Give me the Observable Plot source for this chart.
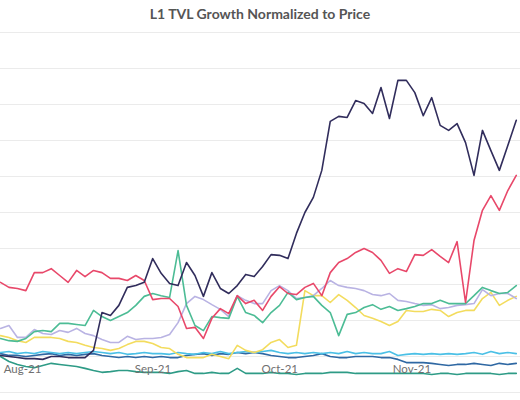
<!DOCTYPE html>
<html>
<head>
<meta charset="utf-8">
<script src="https://cdn.jsdelivr.net/npm/d3@7"></script>
<script src="https://cdn.jsdelivr.net/npm/@observablehq/plot@0.6"></script>
<style>
  html, body { margin: 0; padding: 0; background: #fff; }
  body { width: 520px; height: 400px; overflow: hidden; font-family: Lato, "Open Sans", sans-serif; }
  #title { height: 28px; line-height: 28px; text-align: center; font-weight: 700; font-size: 14px; color: #555; }
</style>
</head>
<body>
<div id="title">L1 TVL Growth Normalized to Price</div>
<div id="chart"></div>
<script>
// Sampling: every 2 days from 2021-07-31
const startDate = "2021-07-31";
const stepDays = 2;
const monthTicks = ["2021-08-01", "2021-09-01", "2021-10-01", "2021-11-01"];
const yTicks = [0, 1, 2, 3, 4, 5, 6, 7, 8, 9, 10];

const seriesNames = ["Chain G", "Chain B", "Chain C", "Chain Y", "Chain L", "Chain T", "Chain R", "Chain N"];
const seriesColors = ["#2e9b86", "#2f68a3", "#4bc0e6", "#f3dc5e", "#b9b3e3", "#4cbc95", "#e8486a", "#312d5c"];

const green = [1.00,0.86,0.78,0.72,0.69,0.75,0.81,0.78,0.75,0.72,
  0.67,0.61,0.56,0.58,0.61,0.61,0.58,0.56,0.56,0.56,
  0.53,0.58,0.61,0.53,0.53,0.56,0.53,0.53,0.67,0.53,
  0.53,0.53,0.56,0.53,0.53,0.50,0.53,0.53,0.53,0.56,
  0.56,0.56,0.53,0.53,0.53,0.53,0.53,0.53,0.53,0.53,
  0.53,0.50,0.53,0.53,0.50,0.53,0.53,0.53,0.53,0.50,
  0.53,0.53];
const blue = [1.08,1.03,1.03,1.00,1.03,1.06,1.08,1.03,1.06,1.03,
  1.06,1.08,1.03,1.00,0.97,1.00,0.97,1.00,0.97,1.00,
  0.97,0.97,1.03,1.06,1.08,1.03,1.08,1.06,1.11,1.08,
  1.11,1.08,1.03,1.00,0.97,0.97,1.00,1.03,1.08,1.00,
  0.97,0.97,1.00,1.00,1.00,0.97,0.97,0.92,0.83,0.83,
  0.83,0.81,0.78,0.75,0.78,0.78,0.81,0.78,0.75,0.81,
  0.78,0.81];
const cyan = [1.11,1.14,1.08,1.11,1.08,1.14,1.11,1.08,1.11,1.08,
  1.11,1.14,1.11,1.08,1.11,1.06,1.08,1.11,1.08,1.08,
  1.06,1.11,1.08,1.06,1.11,1.08,1.14,1.08,1.11,1.14,
  1.11,1.14,1.17,1.11,1.08,1.11,1.08,1.11,1.08,1.11,
  1.08,1.14,1.08,1.11,1.08,1.08,1.14,1.03,1.06,1.08,
  1.06,1.08,1.06,1.08,1.06,1.08,1.11,1.06,1.14,1.08,
  1.11,1.08];
const yellow = [1.58,1.53,1.44,1.39,1.53,1.53,1.53,1.50,1.42,1.39,
  1.31,1.25,1.22,1.17,1.22,1.33,1.42,1.42,1.36,1.25,
  1.22,1.06,0.97,0.97,0.97,1.06,1.00,0.94,1.31,1.17,
  1.11,1.19,1.39,1.47,1.25,1.31,2.83,2.69,2.69,2.50,
  2.72,2.56,2.36,2.14,2.06,1.97,1.86,1.97,2.28,2.25,
  2.25,2.31,2.28,2.11,2.22,2.28,2.28,2.61,2.78,2.42,
  2.56,2.67];
const lavender = [1.78,1.86,1.53,1.53,1.75,1.64,1.61,1.72,1.67,1.78,
  1.64,1.58,1.47,1.39,1.39,1.56,1.47,1.50,1.50,1.53,
  1.61,1.94,2.47,2.67,2.58,2.44,2.31,2.11,2.69,2.56,
  2.47,2.47,2.83,2.97,2.83,2.61,2.64,2.69,2.89,3.11,
  2.97,2.92,2.89,2.83,2.72,2.69,2.75,2.56,2.53,2.47,
  2.42,2.44,2.33,2.36,2.42,2.44,2.47,2.86,2.69,2.75,
  2.75,2.61];
const teal = [1.50,1.44,1.42,1.50,1.69,1.72,1.69,1.92,1.92,1.89,
  1.86,2.28,2.11,2.00,2.11,2.22,2.42,2.67,2.75,2.69,
  2.64,3.94,2.42,1.86,1.72,2.11,2.08,2.06,2.67,2.22,
  2.14,1.94,2.22,2.42,2.78,2.58,2.64,2.67,2.42,2.22,
  1.58,2.17,2.22,2.36,2.44,2.31,2.39,2.28,2.33,2.39,
  2.47,2.47,2.56,2.47,2.47,2.47,2.69,2.92,2.83,2.75,
  2.78,2.97];
const red = [3.06,2.92,2.89,2.83,3.33,3.33,3.44,3.25,3.06,3.39,
  3.22,3.39,3.33,3.17,3.17,3.11,3.25,3.11,2.58,2.61,
  2.61,2.39,1.78,1.81,1.50,2.06,2.33,2.19,2.69,2.47,
  2.56,2.28,2.67,2.94,2.75,2.72,2.92,3.03,2.69,3.33,
  3.61,3.72,3.89,4.00,3.89,3.67,3.31,3.44,3.36,3.83,
  3.81,3.97,3.78,3.61,4.19,2.50,4.22,5.06,5.47,5.06,
  5.61,6.03];
const navy = [1.03,1.00,0.97,0.94,0.94,0.92,1.00,1.00,0.97,0.97,
  0.97,1.17,2.22,2.14,2.42,2.92,2.97,3.06,3.72,3.31,
  3.03,2.97,3.61,3.25,2.67,3.33,2.89,2.75,2.97,3.28,
  3.22,3.50,3.83,3.81,3.72,4.42,5.00,5.42,6.17,7.53,
  7.67,7.64,8.11,8.03,7.75,8.47,7.61,8.67,8.67,8.33,
  7.69,8.19,7.42,7.28,7.47,6.94,6.03,7.28,6.72,6.17,
  6.86,7.56];

const seriesValues = [green, blue, cyan, yellow, lavender, teal, red, navy];

const start = new Date(startDate + "T00:00:00Z");
const rows = [];
seriesNames.forEach((name, s) => {
  seriesValues[s].forEach((v, i) => {
    rows.push({ series: name, date: d3.utcDay.offset(start, i * stepDays), value: v });
  });
});

const chart = Plot.plot({
  width: 520,
  height: 372,
  marginTop: 4,
  marginBottom: 8,
  marginLeft: 0,
  marginRight: 0,
  style: { background: "#fff", fontFamily: "Lato, 'Open Sans', sans-serif" },
  x: { type: "utc", domain: [new Date("2021-07-31T00:00:00Z"), new Date("2021-12-01T00:00:00Z")] },
  y: { domain: [0, 10], axis: null },
  color: { type: "ordinal", domain: seriesNames, range: seriesColors },
  marks: [
    Plot.ruleY(yTicks, { stroke: "#ebebeb", strokeWidth: 1 }),
    Plot.line(rows, { x: "date", y: "value", z: "series", stroke: { value: "series", scale: "color" }, strokeWidth: 1.6, strokeLinejoin: "round" }),
    Plot.axisX(monthTicks.map(d => new Date(d + "T00:00:00Z")), {
      tickSize: 0, tickPadding: 0, tickFormat: d3.utcFormat("%b-%y"),
      textAnchor: "start", dx: -1, dy: -28, fontSize: 11.5, fill: "#6f6f6f", label: null
    })
  ]
});
document.getElementById("chart").appendChild(chart);
</script>
</body>
</html>
